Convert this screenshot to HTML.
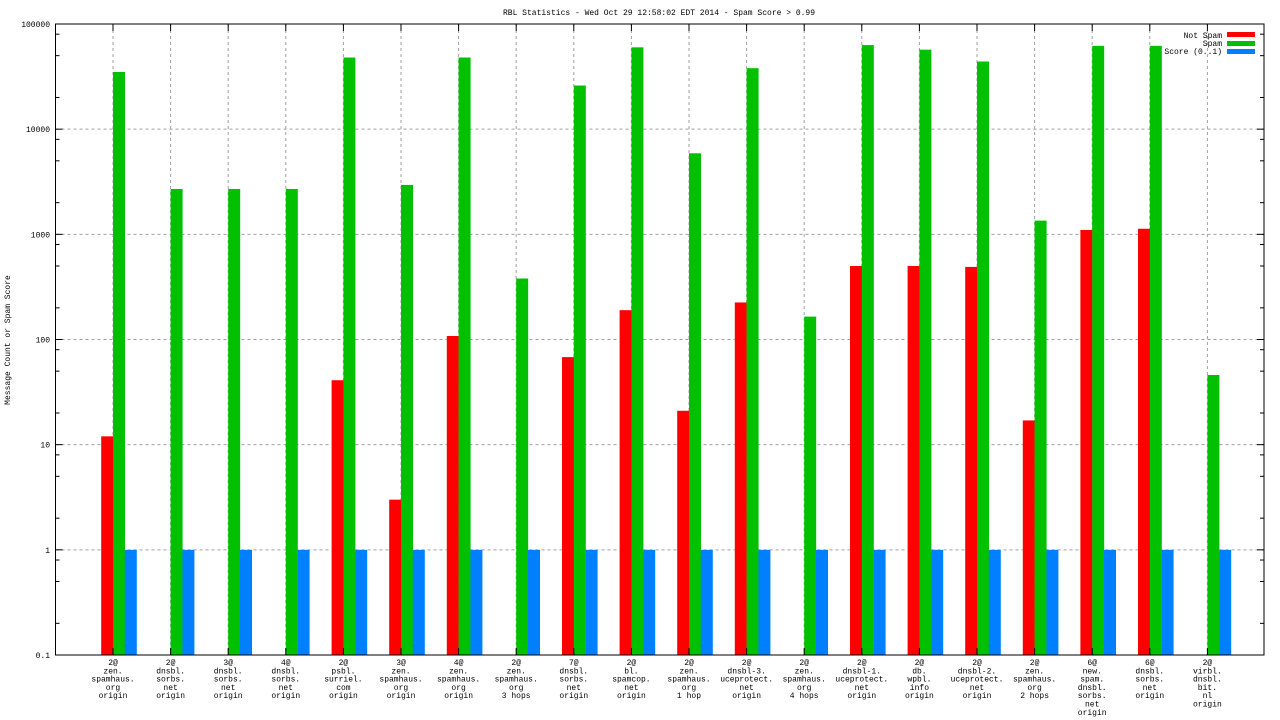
<!DOCTYPE html>
<html><head><meta charset="utf-8">
<style>
body{margin:0;background:#fff;}
svg{display:block;font-family:"Liberation Mono","DejaVu Sans Mono",monospace;font-size:8px;}
</style></head>
<body>
<svg id="chart" width="1280" height="720" viewBox="0 0 1280 720" xmlns="http://www.w3.org/2000/svg">
<rect width="1280" height="720" fill="#fff"/>
<text x="659" y="15" text-anchor="middle">RBL Statistics - Wed Oct 29 12:58:02 EDT 2014 - Spam Score &gt; 0.99</text>
<text transform="translate(10,340) rotate(-90)" text-anchor="middle">Message Count or Spam Score</text>
<g id="grid"></g><g id="bars"></g><g id="axes"></g><g id="labels"></g>
<g>
<text x="1222" y="38" text-anchor="end">Not Spam</text><rect x="1227" y="32" width="28" height="5" fill="#ff0000"/>
<text x="1222" y="46" text-anchor="end">Spam</text><rect x="1227" y="41" width="28" height="5" fill="#00c000"/>
<text x="1222" y="54" text-anchor="end">Score (0..1)</text><rect x="1227" y="49" width="28" height="5" fill="#0080ff"/>
</g>
</svg>
<script>
const categories=[["2@","zen.","spamhaus.","org","origin"],["2@","dnsbl.","sorbs.","net","origin"],["3@","dnsbl.","sorbs.","net","origin"],["4@","dnsbl.","sorbs.","net","origin"],["2@","psbl.","surriel.","com","origin"],["3@","zen.","spamhaus.","org","origin"],["4@","zen.","spamhaus.","org","origin"],["2@","zen.","spamhaus.","org","3 hops"],["7@","dnsbl.","sorbs.","net","origin"],["2@","bl.","spamcop.","net","origin"],["2@","zen.","spamhaus.","org","1 hop"],["2@","dnsbl-3.","uceprotect.","net","origin"],["2@","zen.","spamhaus.","org","4 hops"],["2@","dnsbl-1.","uceprotect.","net","origin"],["2@","db.","wpbl.","info","origin"],["2@","dnsbl-2.","uceprotect.","net","origin"],["2@","zen.","spamhaus.","org","2 hops"],["6@","new.","spam.","dnsbl.","sorbs.","net","origin"],["6@","dnsbl.","sorbs.","net","origin"],["2@","virbl.","dnsbl.","bit.","nl","origin"]];
const notSpam=[12,0,0,0,41,3,108,0,68,190,21,225,0,500,500,490,17,1100,1130,0];
const spam=[35000,2700,2700,2700,48000,2950,48000,380,26000,60000,5900,38000,165,63000,57000,44000,1350,62000,62000,46];
const score=[1,1,1,1,1,1,1,1,1,1,1,1,1,1,1,1,1,1,1,1];
const yTicks=[0.1,1,10,100,1000,10000,100000];
const yTickLabels=["0.1","1","10","100","1000","10000","100000"];

const L=55.5,R=1264,T=24,B=655;
const NS="http://www.w3.org/2000/svg";
function y(v){return B-(Math.log10(v)+1)/6*(B-T);}
function x(i){return 113+57.6*i;}
function mk(tag,attrs,parent){const e=document.createElementNS(NS,tag);for(const k in attrs)e.setAttribute(k,attrs[k]);document.getElementById(parent).appendChild(e);return e;}
yTicks.forEach((t,k)=>{
  const yy=y(t);
  if(k>0&&k<yTicks.length-1){const g=mk('line',{x1:L,x2:R,y1:yy,y2:yy,stroke:'#a0a0a0','stroke-dasharray':'3,3'},'grid');
  
  }
  const tl=mk('text',{x:50,y:yy+3,'text-anchor':'end'},'labels');tl.textContent=yTickLabels[k];
  
  
  mk('line',{x1:L,x2:L+7,y1:yy,y2:yy,stroke:'#000'},'axes');
  mk('line',{x1:R-7,x2:R,y1:yy,y2:yy,stroke:'#000'},'axes');
  if(k<yTicks.length-1){[2,5,8].forEach(m=>{const my=y(t*m);
    mk('line',{x1:L,x2:L+4,y1:my,y2:my,stroke:'#000'},'axes');
    mk('line',{x1:R-4,x2:R,y1:my,y2:my,stroke:'#000'},'axes');});}
});
categories.forEach((c,i)=>{
  const cx=x(i);
  const g=mk('line',{x1:cx,x2:cx,y1:T,y2:B,stroke:'#a0a0a0','stroke-dasharray':'3,3'},'grid');
  
  
  mk('line',{x1:cx,x2:cx,y1:B,y2:B-7,stroke:'#000'},'axes');
  mk('line',{x1:cx,x2:cx,y1:T,y2:T+7,stroke:'#000'},'axes');
  const w=11.8;
  [[notSpam[i],'#ff0000',cx-w,'bar-not-spam'],[spam[i],'#00c000',cx,'bar-spam'],[score[i],'#0080ff',cx+w,'bar-score']].forEach(([v,col,bx,nm])=>{
    if(v>0){const r=mk('rect',{x:bx,y:y(v),width:w+0.2,height:B-y(v),fill:col},'bars');
    
    }
  });
  c.forEach((ln,j)=>{const t=mk('text',{x:cx,y:665+j*8.3,'text-anchor':'middle'},'labels');t.textContent=ln;
    
    });
});
const frame=mk('rect',{x:L,y:T,width:R-L,height:B-T,fill:'none',stroke:'#000','stroke-width':1},'axes');


</script>
</body></html>
